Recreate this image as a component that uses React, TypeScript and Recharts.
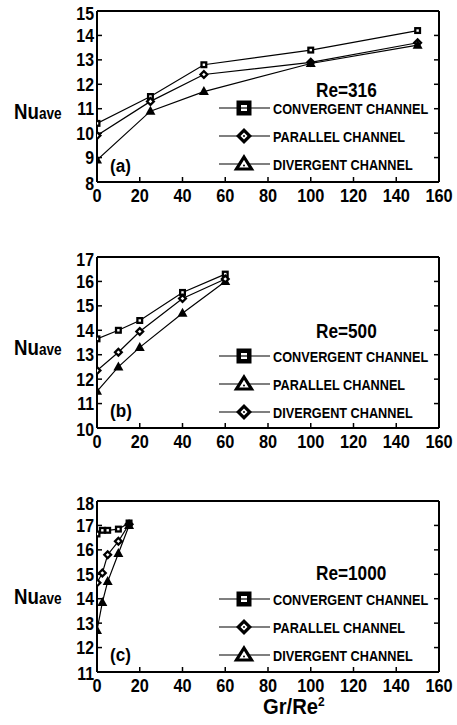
import React from "react";
import { LineChart, Line, XAxis, YAxis, Legend } from "recharts";

const FONT = "'Liberation Sans', Arial, sans-serif";

// Gr/Re^2 ticks shared by all three panels
const X_TICKS = [0, 20, 40, 60, 80, 100, 120, 140, 160];

// (a) Re=316
const xA = [0, 25, 50, 100, 150];
const convA = [10.4, 11.5, 12.8, 13.4, 14.2];
const parA = [9.9, 11.3, 12.4, 12.9, 13.7];
const divA = [8.9, 10.9, 11.7, 12.85, 13.6];
const yTicksA = [8, 9, 10, 11, 12, 13, 14, 15];

// (b) Re=500
const xB = [0, 10, 20, 40, 60];
const convB = [13.65, 14.0, 14.4, 15.55, 16.3];
const parB = [11.5, 12.5, 13.3, 14.7, 16.0];
const divB = [12.35, 13.1, 13.95, 15.3, 16.1];
const yTicksB = [10, 11, 12, 13, 14, 15, 16, 17];

// (c) Re=1000
const xC = [0, 2.5, 5, 10, 15];
const convC = [16.65, 16.8, 16.8, 16.85, 17.1];
const parC = [14.65, 15.05, 15.8, 16.35, 17.05];
const divC = [12.7, 13.85, 14.7, 15.85, 17.0];
const yTicksC = [11, 12, 13, 14, 15, 16, 17, 18];

const toPts = (xs: number[], ys: number[]) => xs.map((x, i) => ({ x, y: ys[i] }));

type Shape = "square" | "diamond" | "triangle";

// bold text squeezed horizontally, to get the narrow look of the original
function NText({ x, y, size, sx = 0.82, anchor = "start", dy, children }: any) {
  return (
    <text
      transform={`translate(${x},${y}) scale(${sx},1)`}
      x={0}
      y={0}
      dy={dy}
      fontSize={size}
      fontWeight="bold"
      fontFamily={FONT}
      textAnchor={anchor}
      fill="#000"
    >
      {children}
    </text>
  );
}

function PlotMarker({ cx, cy, shape }: { cx: number; cy: number; shape: Shape }) {
  if (cx == null || cy == null) return null;
  if (shape === "square")
    return (
      <g>
        <rect x={cx - 3.5} y={cy - 3.5} width={7} height={7} fill="#000" />
        <rect x={cx - 1.2} y={cy - 1.2} width={2.4} height={2.4} fill="#fff" />
      </g>
    );
  if (shape === "diamond")
    return (
      <g>
        <polygon points={`${cx},${cy - 5} ${cx + 5},${cy} ${cx},${cy + 5} ${cx - 5},${cy}`} fill="#000" />
        <polygon points={`${cx},${cy - 1.8} ${cx + 1.8},${cy} ${cx},${cy + 1.8} ${cx - 1.8},${cy}`} fill="#fff" />
      </g>
    );
  return <polygon points={`${cx},${cy - 5.5} ${cx + 5},${cy + 3.5} ${cx - 5},${cy + 3.5}`} fill="#000" />;
}

function LegendMarker({ cx, cy, shape }: { cx: number; cy: number; shape: Shape }) {
  if (shape === "square")
    return (
      <g>
        <rect x={cx - 7.5} y={cy - 7.5} width={15} height={15} fill="#000" />
        <rect x={cx - 3} y={cy - 3} width={6} height={6} fill="#fff" />
        <line x1={cx - 3} x2={cx + 3} y1={cy} y2={cy} stroke="#000" strokeWidth={1.2} />
      </g>
    );
  if (shape === "diamond")
    return (
      <g>
        <polygon points={`${cx},${cy - 8} ${cx + 8},${cy} ${cx},${cy + 8} ${cx - 8},${cy}`} fill="#000" />
        <polygon points={`${cx},${cy - 3.5} ${cx + 3.5},${cy} ${cx},${cy + 3.5} ${cx - 3.5},${cy}`} fill="#fff" />
        <circle cx={cx} cy={cy} r={1} fill="#000" />
      </g>
    );
  return (
    <g>
      <polygon points={`${cx},${cy - 7} ${cx + 7.5},${cy + 5} ${cx - 7.5},${cy + 5}`} fill="#fff" stroke="#000" strokeWidth={3.2} />
      <circle cx={cx} cy={cy + 1.5} r={1} fill="#000" />
    </g>
  );
}

interface Series {
  name: string;
  shape: Shape;
  data: { x: number; y: number }[];
}

interface PanelProps {
  top: number;
  yTicks: number[];
  series: Series[];
  title: string;
  titleY: number;
  rowY: number;
  nuY: number;
  tag: string;
  tagY: number;
}

const W = 457;
const H = 221;

function Panel({ top, yTicks, series, title, titleY, rowY, nuY, tag, tagY }: PanelProps) {
  const yMin = yTicks[0];
  const yMax = yTicks[yTicks.length - 1];

  const xTick = (p: any) => (
    <NText x={p.x} y={p.y} dy="0.71em" size={19} sx={0.86} anchor="middle">
      {p.payload.value}
    </NText>
  );

  const yTick = (p: any) => {
    const v = p.payload.value;
    const shift = v === yMax ? 2 : v === yMin ? 1 : 0;
    return (
      <NText x={p.x} y={p.y + shift} dy="0.355em" size={18.5} sx={0.86} anchor="end">
        {v}
      </NText>
    );
  };

  const legendContent = (props: any) => {
    const payload = props.payload || [];
    // keep the order of the series, not the alphabetical one
    const rows = series.map((s) => {
      const entry = payload.find((e: any) => e.value === s.name);
      return { label: entry ? entry.value : s.name, shape: s.shape };
    });
    return (
      <svg width={W} height={H} style={{ display: "block" }}>
        <NText x={316} y={titleY} size={21}>
          {title}
        </NText>
        {rows.map((r, i) => {
          const y = rowY + i * 28;
          return (
            <g key={`leg-${i}`}>
              <line x1={219} x2={270} y1={y} y2={y} stroke="#000" strokeWidth={1.2} />
              <LegendMarker cx={244} cy={y} shape={r.shape} />
              <NText x={273} y={y} dy="0.36em" size={15.5}>
                {r.label}
              </NText>
            </g>
          );
        })}
      </svg>
    );
  };

  return (
    <div style={{ position: "absolute", left: 0, top, width: W, height: H }}>
      <LineChart width={W} height={H} margin={{ top: 10, right: 18, left: 57, bottom: 0 }}>
        <XAxis
          type="number"
          dataKey="x"
          domain={[0, 160]}
          ticks={X_TICKS}
          allowDataOverflow
          height={40}
          tickSize={-5}
          tickMargin={11}
          tick={xTick}
          axisLine={{ stroke: "#000", strokeWidth: 2 }}
          tickLine={{ stroke: "#000", strokeWidth: 1.5 }}
        />
        <XAxis
          xAxisId="top"
          orientation="top"
          mirror
          type="number"
          domain={[0, 160]}
          ticks={X_TICKS}
          allowDataOverflow
          tickSize={5}
          tickFormatter={() => ""}
          axisLine={{ stroke: "#000", strokeWidth: 2 }}
          tickLine={{ stroke: "#000", strokeWidth: 1.5 }}
        />
        <YAxis
          type="number"
          domain={[yMin, yMax]}
          ticks={yTicks}
          allowDataOverflow
          width={40}
          tickSize={-5}
          tickMargin={8}
          tick={yTick}
          axisLine={{ stroke: "#000", strokeWidth: 2 }}
          tickLine={{ stroke: "#000", strokeWidth: 1.5 }}
        />
        <YAxis
          yAxisId="right"
          orientation="right"
          mirror
          type="number"
          domain={[yMin, yMax]}
          ticks={yTicks}
          allowDataOverflow
          tickSize={5}
          tickFormatter={() => ""}
          axisLine={{ stroke: "#000", strokeWidth: 2 }}
          tickLine={{ stroke: "#000", strokeWidth: 1.5 }}
        />
        {series.map((s) => (
          <Line
            key={s.name}
            name={s.name}
            data={s.data}
            dataKey="y"
            type="linear"
            stroke="#000"
            strokeWidth={1.2}
            activeDot={false}
            isAnimationActive={false}
            dot={(p: any) => (
              <g key={`${s.name}-${p.index}`}>
                <PlotMarker cx={p.cx} cy={p.cy} shape={s.shape} />
              </g>
            )}
          />
        ))}
        <Legend
          layout="vertical"
          align="center"
          verticalAlign="middle"
          wrapperStyle={{ left: 0, top: 0, width: W, height: H }}
          content={legendContent}
        />
      </LineChart>
      <svg width={W} height={H} style={{ position: "absolute", left: 0, top: 0, pointerEvents: "none" }}>
        <text transform={`translate(14,${nuY}) scale(0.85,1)`} fontFamily={FONT} fontWeight="bold" fill="#000">
          <tspan fontSize={22}>Nu</tspan>
          <tspan fontSize={16}>ave</tspan>
        </text>
        <NText x={110} y={tagY} size={19} sx={0.9}>
          {tag}
        </NText>
      </svg>
    </div>
  );
}

export default function App() {
  const seriesA: Series[] = [
    { name: "CONVERGENT CHANNEL", shape: "square", data: toPts(xA, convA) },
    { name: "PARALLEL CHANNEL", shape: "diamond", data: toPts(xA, parA) },
    { name: "DIVERGENT CHANNEL", shape: "triangle", data: toPts(xA, divA) },
  ];
  const seriesB: Series[] = [
    { name: "CONVERGENT CHANNEL", shape: "square", data: toPts(xB, convB) },
    { name: "PARALLEL CHANNEL", shape: "triangle", data: toPts(xB, parB) },
    { name: "DIVERGENT CHANNEL", shape: "diamond", data: toPts(xB, divB) },
  ];
  const seriesC: Series[] = [
    { name: "CONVERGENT CHANNEL", shape: "square", data: toPts(xC, convC) },
    { name: "PARALLEL CHANNEL", shape: "diamond", data: toPts(xC, parC) },
    { name: "DIVERGENT CHANNEL", shape: "triangle", data: toPts(xC, divC) },
  ];

  return (
    <div style={{ position: "absolute", left: 0, top: 0, width: 457, height: 725, background: "#fff" }}>
      <Panel top={1} yTicks={yTicksA} series={seriesA} title="Re=316" titleY={96} rowY={107} nuY={118} tag="(a)" tagY={171} />
      <Panel top={247} yTicks={yTicksB} series={seriesB} title="Re=500" titleY={91} rowY={109} nuY={108} tag="(b)" tagY={170} />
      <Panel top={491} yTicks={yTicksC} series={seriesC} title="Re=1000" titleY={89} rowY={108} nuY={113} tag="(c)" tagY={170} />
      <svg width={457} height={40} style={{ position: "absolute", left: 0, top: 690 }}>
        <text transform="translate(263,24) scale(0.92,1)" fontFamily={FONT} fontWeight="bold" fill="#000">
          <tspan fontSize={22}>Gr/Re</tspan>
          <tspan fontSize={13} dy={-8}>2</tspan>
        </text>
      </svg>
    </div>
  );
}
